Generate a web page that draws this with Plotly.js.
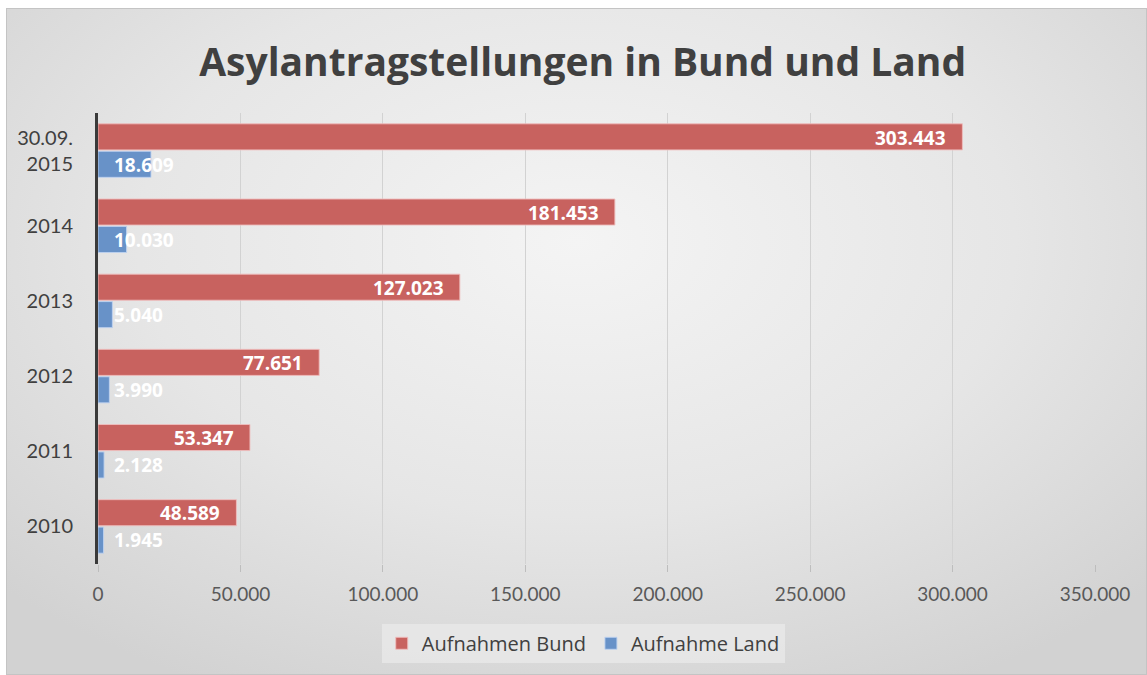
<!DOCTYPE html>
<html>
<head>
<meta charset="utf-8">
<script src="https://cdn.plot.ly/plotly-3.0.1.min.js"></script>
<style>
  html, body { margin: 0; padding: 0; background: #ffffff; }
  #bg {
    position: absolute; left: 6px; top: 8px; width: 1139px; height: 665px;
    border: 1px solid #c4c4c4;
    background: radial-gradient(ellipse 70% 75% at 50% 35%, #f4f4f4 0%, #e6e6e6 55%, #d2d2d2 100%);
  }
  #chart { position: absolute; left: 0; top: 0; width: 1147px; height: 675px; }
</style>
</head>
<body>
<div id="bg"></div>
<div id="chart"></div>
<script>
const categories = ["2010", "2011", "2012", "2013", "2014", "30.09.<br>2015"];
const bundValues = [48589, 53347, 77651, 127023, 181453, 303443];
const landValues = [1945, 2128, 3990, 5040, 10030, 18609];
const tickValues = [0, 50000, 100000, 150000, 200000, 250000, 300000, 350000];
const seriesNames = ["Aufnahmen Bund", "Aufnahme Land"];

function fmt(v) { return String(v).replace(/\B(?=(\d{3})+(?!\d))/g, "."); }
const positions = categories.map((c, i) => i);

const landTrace = {
  type: "bar", orientation: "h", name: seriesNames[1],
  y: positions, x: landValues,
  marker: { color: "#6892c8", line: { color: "rgba(190,210,240,0.9)", width: 1 } },
  hoverinfo: "x+name"
};
const bundTrace = {
  type: "bar", orientation: "h", name: seriesNames[0],
  y: positions, x: bundValues,
  marker: { color: "#c8625f", line: { color: "rgba(240,190,190,0.9)", width: 1 } },
  hoverinfo: "x+name"
};

const labelFont = { family: "Open Sans, sans-serif", size: 19, color: "#ffffff" };
const annotations = [];
positions.forEach((p, i) => {
  annotations.push({
    xref: "x", yref: "y", x: bundValues[i], y: p, text: "<b>" + fmt(bundValues[i]) + "</b>",
    xanchor: "right", yanchor: "middle", xshift: -14, yshift: 13,
    showarrow: false, font: labelFont
  });
  annotations.push({
    xref: "x", yref: "y", x: 0, y: p, text: "<b>" + fmt(landValues[i]) + "</b>",
    xanchor: "left", yanchor: "middle", xshift: 14, yshift: -14,
    showarrow: false, font: labelFont
  });
});

const layout = {
  width: 1147, height: 675,
  paper_bgcolor: "rgba(0,0,0,0)", plot_bgcolor: "rgba(0,0,0,0)",
  margin: { l: 98, r: 52, t: 113, b: 111 },
  title: {
    text: "<b>Asylantragstellungen in Bund und Land</b>",
    font: { family: "Open Sans, sans-serif", size: 39, color: "#404040" },
    xref: "container", yref: "container", x: 0.508, xanchor: "center",
    y: 0.908, yanchor: "middle"
  },
  barmode: "group", bargap: 0.27, bargroupgap: 0.05,
  xaxis: {
    range: [0, 350000], tickvals: tickValues, ticktext: tickValues.map(fmt),
    showgrid: true, gridcolor: "#d2d2d2", gridwidth: 1,
    zeroline: false, showline: false,
    ticks: "outside", ticklen: 7, tickcolor: "#bdbdbd",
    ticklabelstandoff: 6,
    tickfont: { family: "Lato, sans-serif", size: 19, color: "#595959" }
  },
  yaxis: {
    range: [-0.5, categories.length - 0.5],
    tickvals: positions, ticktext: categories,
    showline: true, linecolor: "#3a3a3a", linewidth: 3,
    showgrid: false, zeroline: false, ticks: "outside", ticklen: 18, tickcolor: "rgba(0,0,0,0)",
    tickfont: { family: "Lato, sans-serif", size: 20, color: "#404040" }
  },
  showlegend: true,
  legend: {
    orientation: "h", traceorder: "reversed",
    x: 0.5085, xref: "container", xanchor: "center",
    y: 0.047, yref: "container", yanchor: "middle",
    bgcolor: "rgba(232,232,232,0.85)",
    font: { family: "Open Sans, sans-serif", size: 20, color: "#404040" },
    itemwidth: 30
  },
  annotations: annotations
};

Plotly.newPlot("chart", [landTrace, bundTrace], layout, { displayModeBar: false, staticPlot: true });
</script>
</body>
</html>
